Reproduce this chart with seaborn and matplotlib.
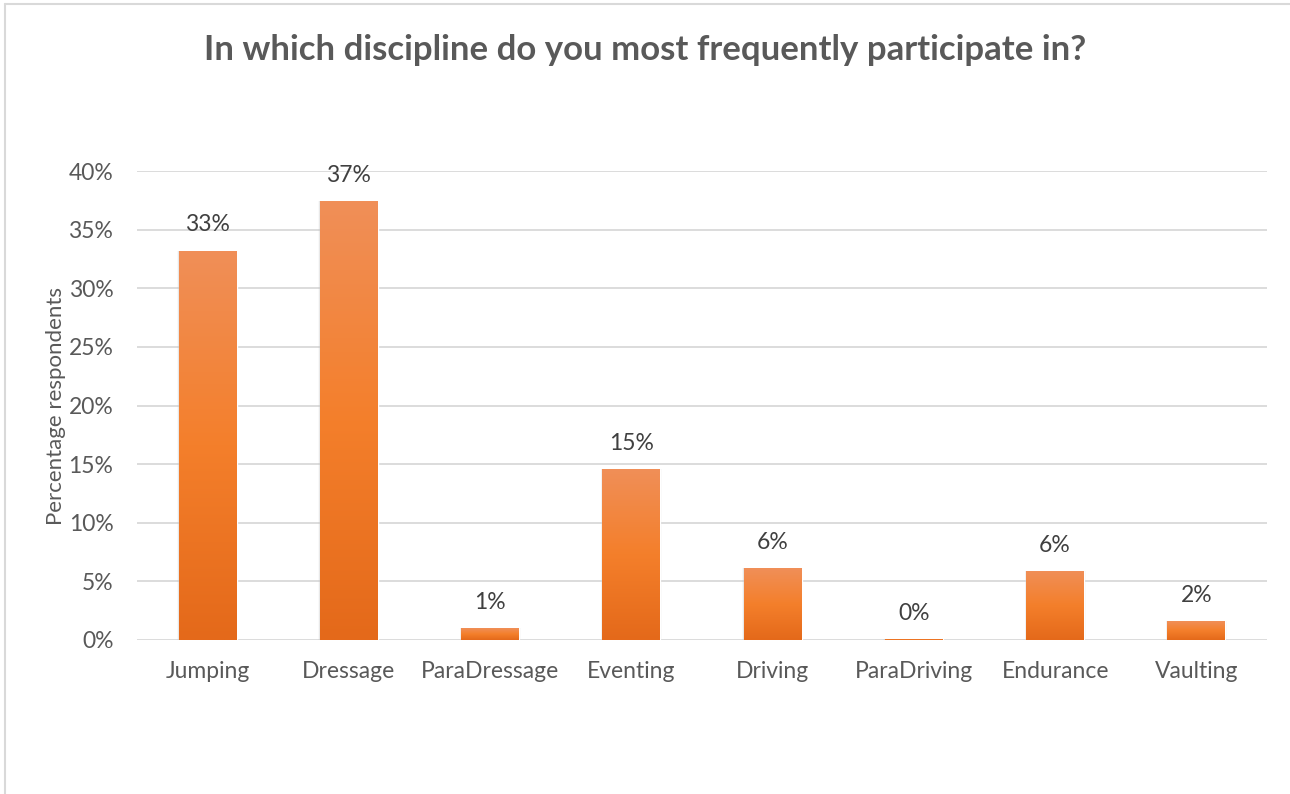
import numpy as np
import pandas as pd
import matplotlib
matplotlib.use("Agg")
import matplotlib.pyplot as plt
from matplotlib.colors import LinearSegmentedColormap
from matplotlib.patches import Rectangle
from matplotlib.ticker import PercentFormatter
import seaborn as sns

# Survey results: share of respondents per discipline
disciplines = ["Jumping", "Dressage", "ParaDressage", "Eventing",
               "Driving", "ParaDriving", "Endurance", "Vaulting"]
shares = [33.2, 37.4, 1.0, 14.6, 6.1, 0.1, 5.9, 1.6]
labels = ["33%", "37%", "1%", "15%", "6%", "0%", "6%", "2%"]

df = pd.DataFrame({"discipline": disciplines, "share": shares})

sns.set_theme(style="white")
plt.rcParams["font.family"] = ["Lato", "DejaVu Sans"]

fig = plt.figure(figsize=(12.9, 7.94), dpi=100)
ax = fig.add_axes([137 / 1290, 1 - 640 / 794, (1267 - 137) / 1290, (640 - 171) / 794])

sns.barplot(data=df, x="discipline", y="share", color="#F4822F", width=0.41,
            ax=ax, zorder=3)

# vertical orange gradient, lighter at the top
grad = LinearSegmentedColormap.from_list(
    "orange_grad", ["#E4691A", "#F47F2B", "#F08F58"])
gimg = np.linspace(0, 1, 256).reshape(-1, 1)

for patch, lab in zip(ax.patches, labels):
    x0, w, h = patch.get_x(), patch.get_width(), patch.get_height()
    # soft drop shadow
    for k, a in enumerate([0.10, 0.07, 0.04]):
        d = 0.006 * (k + 1)
        sh = Rectangle((x0 - d * 0.6, -0.15 - d * 8), w + d * 1.2, h + 0.15 + d * 8,
                       facecolor="#7f7f7f", edgecolor="none", alpha=a, zorder=2)
        ax.add_patch(sh)
    patch.set_facecolor("none")
    im = ax.imshow(gimg, cmap=grad, origin="lower", aspect="auto",
                   extent=(x0, x0 + w, 0, max(h, 0.05)), zorder=3)
    im.set_clip_path(patch)
    ax.text(x0 + w / 2, h + 2.2, lab, ha="center", va="center",
            fontsize=16.5, color="#404040", zorder=4)

ax.set_xlim(-0.5, len(disciplines) - 0.5)
ax.set_ylim(0, 40)
ax.set_yticks(np.arange(0, 41, 5))
ax.yaxis.set_major_formatter(PercentFormatter(decimals=0))
ax.grid(axis="y", color="#D9D9D9", linewidth=1.3, zorder=0)
ax.set_axisbelow(True)
for s in ax.spines.values():
    s.set_visible(False)
ax.tick_params(axis="both", length=0, labelsize=16.5, labelcolor="#595959")
ax.tick_params(axis="x", pad=15)
ax.tick_params(axis="y", pad=17)
ax.set_xlabel("")
ax.set_ylabel("Percentage respondents", fontsize=16, color="#595959", labelpad=2)

fig.text(0.5, 1 - 50 / 794, "In which discipline do you most frequently participate in?",
         ha="center", va="center", fontsize=25, fontweight="bold", color="#595959")

# chart frame lines along the top and left edges
fig.add_artist(plt.Line2D([5 / 1290, 1], [1 - 4 / 794, 1 - 4 / 794],
                          color="#D9D9D9", linewidth=1.5))
fig.add_artist(plt.Line2D([5 / 1290, 5 / 1290], [0, 1 - 4 / 794],
                          color="#D9D9D9", linewidth=1.5))

fig.savefig("out.png", dpi=100, facecolor="white")
